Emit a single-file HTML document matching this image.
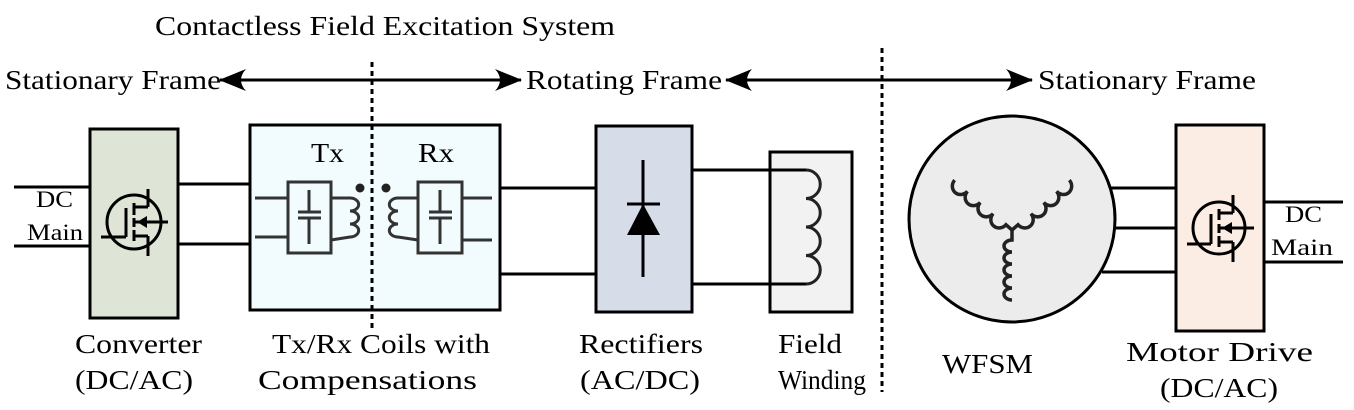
<!DOCTYPE html>
<html><head><meta charset="utf-8"><style>
html,body{margin:0;padding:0;background:#fff;width:1354px;height:410px;overflow:hidden}
svg{display:block}
text{font-family:"Liberation Serif","Times New Roman","DejaVu Serif",serif;font-size:27px;fill:#000}
</style></head><body>
<svg width="1354" height="410" viewBox="0 0 1354 410">
<defs>
<marker id="ah" markerWidth="28" markerHeight="24" refX="26" refY="12" orient="auto-start-reverse" markerUnits="userSpaceOnUse" viewBox="0 0 28 24"><path d="M0,1 Q10,12 0,23 L27,12 Z" fill="#000"/></marker>
</defs>
<text x="155" y="35" textLength="460" lengthAdjust="spacingAndGlyphs">Contactless Field Excitation System</text>
<text x="5" y="89" textLength="216" lengthAdjust="spacingAndGlyphs">Stationary Frame</text>
<line x1="220" y1="80" x2="521" y2="80" stroke="#000" stroke-width="3" marker-start="url(#ah)" marker-end="url(#ah)"/>
<text x="526" y="89" textLength="196" lengthAdjust="spacingAndGlyphs">Rotating Frame</text>
<line x1="726" y1="80" x2="1032" y2="80" stroke="#000" stroke-width="3" marker-start="url(#ah)" marker-end="url(#ah)"/>
<text x="1038" y="89" textLength="218" lengthAdjust="spacingAndGlyphs">Stationary Frame</text>

<g stroke="#000" stroke-width="3" fill="none">
<line x1="14" y1="187" x2="90" y2="187"/><line x1="14" y1="246" x2="90" y2="246"/>
<line x1="178" y1="184" x2="250" y2="184"/><line x1="178" y1="244" x2="250" y2="244"/>
<line x1="500" y1="188" x2="596" y2="188"/><line x1="500" y1="274" x2="596" y2="274"/>
<line x1="692" y1="170" x2="806" y2="170"/><line x1="692" y1="284" x2="806" y2="284"/>
<line x1="1102" y1="188" x2="1176" y2="188"/><line x1="1112" y1="228" x2="1176" y2="228"/><line x1="1102" y1="272" x2="1176" y2="272"/>
<line x1="1264" y1="202" x2="1343" y2="202"/><line x1="1264" y1="262" x2="1343" y2="262"/>
</g>
<text x="36" y="207" textLength="37" lengthAdjust="spacingAndGlyphs" style="font-size:23px">DC</text>
<text x="27" y="240" textLength="56" lengthAdjust="spacingAndGlyphs" style="font-size:23px">Main</text>
<text x="1285" y="222" textLength="37" lengthAdjust="spacingAndGlyphs" style="font-size:23px">DC</text>
<text x="1271" y="255" textLength="62" lengthAdjust="spacingAndGlyphs" style="font-size:23px">Main</text>

<g>
<rect x="90" y="129" width="88" height="189" fill="#dfe5d6" stroke="#000" stroke-width="3"/>
<g stroke="#000" stroke-width="3" fill="none">
<circle cx="134" cy="222" r="27"/>
<line x1="101" y1="237" x2="126" y2="237"/><line x1="126" y1="237" x2="126" y2="208"/>
<line x1="134" y1="203" x2="134" y2="215"/><line x1="134" y1="218" x2="134" y2="227"/><line x1="134" y1="230" x2="134" y2="241"/>
<line x1="134" y1="207" x2="148" y2="207"/><line x1="148" y1="189" x2="148" y2="207"/>
<line x1="134" y1="236" x2="148" y2="236"/><line x1="148" y1="236" x2="148" y2="256"/>
<line x1="134" y1="222" x2="168" y2="222"/>
</g>
<path d="M137,222 L147,216 L147,228 Z" fill="#000"/>
</g>

<g>
<rect x="250" y="125" width="250" height="185" fill="#f2fbfd" stroke="#000" stroke-width="3"/>
<text x="311" y="162" textLength="33" lengthAdjust="spacingAndGlyphs">Tx</text>
<text x="418" y="162" textLength="36" lengthAdjust="spacingAndGlyphs">Rx</text>
<g stroke="#333" stroke-width="3" fill="none">
<rect x="288" y="182" width="43" height="71"/><rect x="418" y="182" width="44" height="71"/>
<line x1="255" y1="198" x2="288" y2="198"/><line x1="255" y1="237" x2="288" y2="237"/>
<line x1="462" y1="198" x2="492" y2="198"/><line x1="462" y1="240" x2="492" y2="240"/>
<line x1="309" y1="190" x2="309" y2="212"/><line x1="309" y1="219" x2="309" y2="244"/>
<line x1="298" y1="212" x2="321" y2="212"/><line x1="298" y1="218" x2="321" y2="218"/>
<line x1="440" y1="190" x2="440" y2="212"/><line x1="440" y1="219" x2="440" y2="244"/>
<line x1="429" y1="212" x2="452" y2="212"/><line x1="429" y1="218" x2="452" y2="218"/>
<path d="M331,198 L350,198 a8,6 0 0 1 0,13 a8,6 0 0 1 0,13 a8,6 0 0 1 0,13 L331,240"/>
<path d="M418,198 L398,198 a8,6 0 0 0 0,13 a8,6 0 0 0 0,13 a8,6 0 0 0 0,13 L418,240"/>
</g>
<circle cx="360" cy="188" r="4.5" fill="#222"/><circle cx="386" cy="188" r="4.5" fill="#222"/>
</g>

<line x1="372" y1="62" x2="372" y2="332" stroke="#000" stroke-width="3" stroke-dasharray="5,4"/>
<line x1="882" y1="48" x2="882" y2="392" stroke="#000" stroke-width="3" stroke-dasharray="5,4"/>

<g>
<rect x="596" y="126" width="96" height="186" fill="#d6dce8" stroke="#000" stroke-width="3"/>
<line x1="643" y1="160" x2="643" y2="277" stroke="#000" stroke-width="3"/>
<line x1="627" y1="204" x2="660" y2="204" stroke="#000" stroke-width="3"/>
<path d="M643,204 L627,235 L660,235 Z" fill="#000"/>
</g>

<g>
<rect x="770" y="152" width="82" height="160" fill="#f2f2f2" stroke="#000" stroke-width="3"/>
<line x1="770" y1="170" x2="806" y2="170" stroke="#000" stroke-width="3"/>
<line x1="770" y1="284" x2="806" y2="284" stroke="#000" stroke-width="3"/>
<path d="M806,170 a14,14 0 0 1 0,28.5 a14,14 0 0 1 0,28.5 a14,14 0 0 1 0,28.5 a14,14 0 0 1 0,28.5" fill="none" stroke="#222" stroke-width="3"/>
</g>

<g>
<circle cx="1012" cy="219" r="103" fill="#ececec" stroke="#000" stroke-width="3"/>
<g stroke="#222" stroke-width="3.5" fill="none">
<path transform="translate(1012,230)" d="M0,0 L0,10 a8,6 0 0 0 0,12 a8,6 0 0 0 0,12 a8,6 0 0 0 0,12 a8,6 0 0 0 0,12 a8,6 0 0 0 0,12"/>
<path transform="translate(1012,230) rotate(131)" d="M0,0 L0,8 a9,8.5 0 1 1 0,17 a9,8.5 0 1 1 0,17 a9,8.5 0 1 1 0,17 a9,8.5 0 1 1 0,17"/>
<path transform="translate(1012,230) rotate(-131)" d="M0,0 L0,8 a9,8.5 0 1 0 0,17 a9,8.5 0 1 0 0,17 a9,8.5 0 1 0 0,17 a9,8.5 0 1 0 0,17"/>
</g>
</g>

<g>
<rect x="1176" y="125" width="88" height="206" fill="#fcede4" stroke="#000" stroke-width="3"/>
<g stroke="#000" stroke-width="3" fill="none">
<circle cx="1219" cy="228" r="26"/>
<line x1="1187" y1="244" x2="1211" y2="244"/><line x1="1211" y1="244" x2="1211" y2="214"/>
<line x1="1219" y1="209" x2="1219" y2="220"/><line x1="1219" y1="224" x2="1219" y2="233"/><line x1="1219" y1="236" x2="1219" y2="247"/>
<line x1="1219" y1="213" x2="1233" y2="213"/><line x1="1233" y1="195" x2="1233" y2="213"/>
<line x1="1219" y1="242" x2="1233" y2="242"/><line x1="1233" y1="242" x2="1233" y2="262"/>
<line x1="1219" y1="228" x2="1254" y2="228"/>
</g>
<path d="M1222,228 L1232,222 L1232,234 Z" fill="#000"/>
</g>

<g>
<text x="75" y="353" textLength="127" lengthAdjust="spacingAndGlyphs">Converter</text>
<text x="75" y="389" textLength="118" lengthAdjust="spacingAndGlyphs">(DC/AC)</text>
<text x="272" y="353" textLength="218" lengthAdjust="spacingAndGlyphs">Tx/Rx Coils with</text>
<text x="258" y="389" textLength="219" lengthAdjust="spacingAndGlyphs">Compensations</text>
<text x="579" y="353" textLength="124" lengthAdjust="spacingAndGlyphs">Rectifiers</text>
<text x="580" y="389" textLength="120" lengthAdjust="spacingAndGlyphs">(AC/DC)</text>
<text x="778" y="353" textLength="64" lengthAdjust="spacingAndGlyphs">Field</text>
<text x="778" y="389" textLength="88" lengthAdjust="spacingAndGlyphs">Winding</text>
<text x="942" y="373" textLength="91" lengthAdjust="spacingAndGlyphs">WFSM</text>
<text x="1126" y="361" textLength="187" lengthAdjust="spacingAndGlyphs">Motor Drive</text>
<text x="1160" y="397" textLength="118" lengthAdjust="spacingAndGlyphs">(DC/AC)</text>
</g>
</svg>
</body></html>
